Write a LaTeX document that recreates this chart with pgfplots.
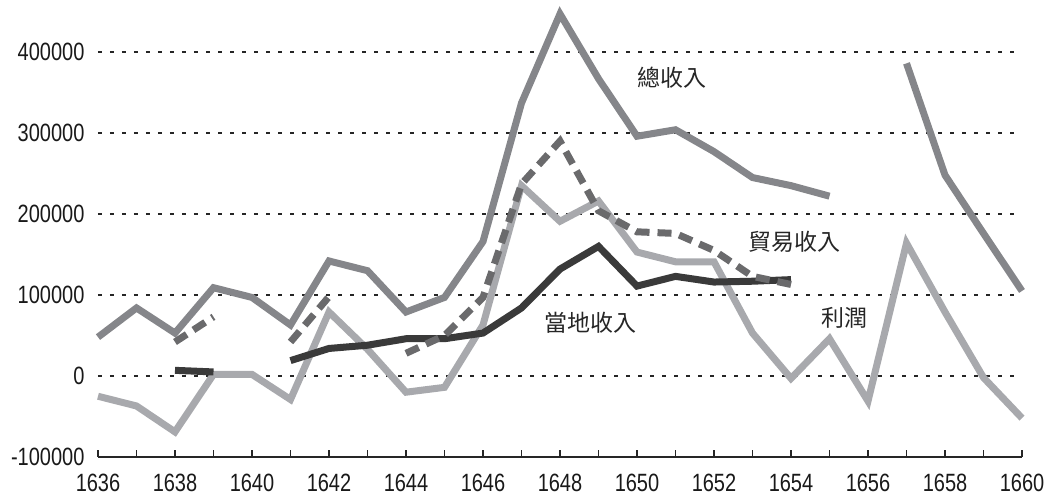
\documentclass[border=0pt]{standalone}
\usepackage{pgfplots}
\pgfplotsset{compat=1.18}
\usepackage{fontspec}
\setmainfont{Liberation Sans}[FakeStretch=0.8]
\newfontfamily\cjk{Noto Sans CJK TC}
\definecolor{totalc}{HTML}{85868A}
\definecolor{tradec}{HTML}{6A6A6C}
\definecolor{localc}{HTML}{3A3A3A}
\definecolor{profitc}{HTML}{A8A9AD}
\begin{document}
\begin{tikzpicture}
\useasboundingbox (-98pt,-46pt) rectangle (957pt,457pt);
\begin{axis}[
  scale only axis,
  width=924pt, height=445.5pt,
  xmin=1636, xmax=1660,
  ymin=-100000, ymax=450000,
  clip=false,
  axis x line*=bottom,
  axis y line*=left,
  x axis line style={line width=1.6pt, black!85, -},
  y axis line style={draw=none},
  xtick={1636,1638,...,1660},
  xticklabels={1636,1638,1640,1642,1644,1646,1648,1650,1652,1654,1656,1658,1660},
  minor xtick={1637,1639,...,1659},
  tick align=inside,
  major tick length=7pt, minor tick length=7pt,
  xtick style={black!85, line width=1.3pt},
  ytick={-100000,0,100000,200000,300000,400000},
  yticklabels={-100000,0,100000,200000,300000,400000},
  ymajorgrids,
  major grid style={black!85, line width=2pt, dash pattern=on 4pt off 8pt},
  ytick style={draw=none},
  yticklabel style={font=\fontsize{25}{28}\selectfont, text=black!90, anchor=east, xshift=-10pt},
  xticklabel style={font=\fontsize{25}{28}\selectfont, text=black!90, anchor=north, yshift=-14pt},
]
% Total revenue
\addplot[totalc, line width=7pt, line join=miter] coordinates {
(1636,48000) (1637,84000) (1638,53000) (1639,109000) (1640,97000) (1641,63000)
(1642,142000) (1643,130000) (1644,79000) (1645,97000) (1646,166000) (1647,337000)
(1648,447000) (1649,367000) (1650,296000) (1651,304000) (1652,277000) (1653,245000)
(1654,235000) (1655,222000)
};
\addplot[totalc, line width=7pt] coordinates {
(1657,386000) (1658,248000) (1659,176000) (1660,105000)
};
% Profit
\addplot[profitc, line width=7pt] coordinates {
(1636,-25000) (1637,-37000) (1638,-69000) (1639,2000) (1640,2000) (1641,-29000)
(1642,79000) (1643,33000) (1644,-20000) (1645,-14000) (1646,63000) (1647,235000)
(1648,191000) (1649,216000) (1650,153000) (1651,141000) (1652,141000) (1653,53000)
(1654,-3000) (1655,46000) (1656,-31000) (1657,164000) (1658,79000) (1659,-2000)
(1660,-52000)
};
% Local revenue
\addplot[localc, line width=7pt] coordinates {(1638,7000) (1639,5000)};
\addplot[localc, line width=7pt] coordinates {
(1641,19000) (1642,34000) (1643,38000) (1644,46000) (1645,46000) (1646,53000)
(1647,84000) (1648,132000) (1649,160000) (1650,111000) (1651,123000) (1652,116000)
(1653,117000) (1654,119000)
};
% Trade revenue (dashed)
\addplot[tradec, line width=7pt, dash pattern=on 14pt off 8pt] coordinates {(1638,42000) (1639,73000)};
\addplot[tradec, line width=7pt, dash pattern=on 14pt off 8pt] coordinates {(1641,42000) (1642,98000)};
\addplot[tradec, line width=7pt, dash pattern=on 14pt off 8pt] coordinates {
(1644,28000) (1645,50000) (1646,97000) (1647,237000) (1648,290000) (1649,204000)
(1650,178000) (1651,176000) (1652,155000) (1653,123000) (1654,113000)
};
% labels
\node[font=\cjk\fontsize{23}{25}\selectfont, text=black!85] at (axis cs:1650.9,368000) {總收入};
\node[font=\cjk\fontsize{23}{25}\selectfont, text=black!85] at (axis cs:1654.1,166000) {貿易收入};
\node[font=\cjk\fontsize{23}{25}\selectfont, text=black!85] at (axis cs:1648.8,66000) {當地收入};
\node[font=\cjk\fontsize{23}{25}\selectfont, text=black!85] at (axis cs:1655.4,72000) {利潤};
\end{axis}
\end{tikzpicture}
\end{document}
